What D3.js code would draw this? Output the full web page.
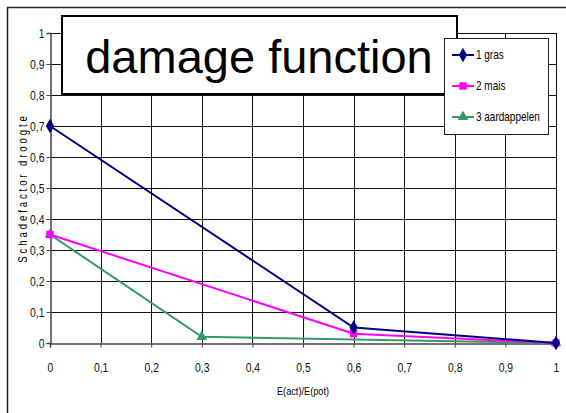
<!DOCTYPE html>
<html>
<head>
<meta charset="utf-8">
<script src="https://cdn.jsdelivr.net/npm/d3@7"></script>
<style>
  body { margin: 0; background: #fff; }
  text { font-family: "Liberation Sans", Arial, sans-serif; }
</style>
</head>
<body>
<div id="viz_area"></div>
<script>
// chart values
var seriesNames = ["1 gras", "2 mais", "3 aardappelen"];
var grasX = [0, 0.6, 1];
var grasY = [0.7, 0.05, 0];
var maisX = [0, 0.6, 1];
var maisY = [0.35, 0.03, 0];
var aardX = [0, 0.3, 1];
var aardY = [0.35, 0.02, 0];
var xTicks = [0, 0.1, 0.2, 0.3, 0.4, 0.5, 0.6, 0.7, 0.8, 0.9, 1];
var yTicks = [0, 0.1, 0.2, 0.3, 0.4, 0.5, 0.6, 0.7, 0.8, 0.9, 1];

var NARROW = 0.8; // squeeze text to look like a narrow font

function __init__() {
    drawChart();
}

// put a text at (px,py) and squeeze it horizontally
function narrowText(sel, px, py, extra) {
    return sel.attr("transform", "translate(" + px + "," + py + ")" + (extra || "") + " scale(" + NARROW + ",1)");
}

function drawChart() {
    var w = 566;
    var h = 413;

    var svg = d3.select("#viz_area")
                .append("svg")
                .attr("width", w)
                .attr("height", h);

    // outer chart frame (runs off the picture on right / bottom)
    svg.append("rect")
       .attr("x", 7.5).attr("y", 7.5)
       .attr("width", 600).attr("height", 500)
       .attr("fill", "white")
       .attr("stroke", "#222")
       .attr("stroke-width", 1.5);

    var x = d3.scaleLinear().domain([0, 1]).range([50, 556]);
    var y = d3.scaleLinear().domain([0, 1]).range([343, 33]);

    var fmt = function(d) { return d3.format(".1~f")(d).replace(".", ","); };

    // grid
    var grid = svg.append("g");
    grid.selectAll("line.v")
        .data(xTicks.slice(1))
        .enter().append("line")
        .attr("x1", (d) => Math.round(x(d)) + 0.5)
        .attr("x2", (d) => Math.round(x(d)) + 0.5)
        .attr("y1", y(1)).attr("y2", y(0))
        .attr("stroke", "#111").attr("stroke-width", 1);
    grid.selectAll("line.h")
        .data(yTicks.slice(1))
        .enter().append("line")
        .attr("y1", (d) => Math.round(y(d)) + 0.5)
        .attr("y2", (d) => Math.round(y(d)) + 0.5)
        .attr("x1", x(0)).attr("x2", x(1))
        .attr("stroke", "#111").attr("stroke-width", 1);

    // axes
    var xAxis = d3.axisBottom(x).tickValues(xTicks).tickFormat(fmt).tickSize(4).tickPadding(15);
    var yAxis = d3.axisLeft(y).tickValues(yTicks).tickFormat(fmt).tickSize(4).tickPadding(2);

    var gx = svg.append("g")
                .attr("transform", "translate(0," + (Math.round(y(0)) + 0.5) + ")")
                .call(xAxis);
    var gy = svg.append("g")
                .attr("transform", "translate(" + (Math.round(x(0)) + 0.5) + ",0)")
                .call(yAxis);
    [gx, gy].forEach(function(g) {
        g.select(".domain").attr("stroke", "#444").attr("stroke-width", 1.5);
        g.selectAll(".tick line").attr("stroke", "#444");
        g.selectAll("text")
         .attr("font-size", 13)
         .attr("fill", "#111")
         .attr("font-family", "'Liberation Sans', Arial, sans-serif")
         .attr("x", function() { return (+d3.select(this).attr("x") || 0) / NARROW; })
         .attr("transform", "scale(" + NARROW + ",1)");
    });

    // axis titles
    narrowText(svg.append("text"), 303, 395)
       .attr("text-anchor", "middle")
       .attr("font-size", 11.5)
       .text("E(act)/E(pot)");
    narrowText(svg.append("text"), 27, 188, " rotate(-90)")
       .attr("text-anchor", "middle")
       .attr("font-size", 12)
       .attr("letter-spacing", 3.6)
       .text("Schadefactor droogte");

    // series
    var series = [
        { name: seriesNames[0], xs: grasX, ys: grasY, color: "#000080", sym: d3.symbolDiamond, size: 60 },
        { name: seriesNames[1], xs: maisX, ys: maisY, color: "#ff00ff", sym: d3.symbolSquare, size: 55 },
        { name: seriesNames[2], xs: aardX, ys: aardY, color: "#339966", sym: d3.symbolTriangle, size: 50 }
    ];

    var line = d3.line().x((d) => x(d[0])).y((d) => y(d[1]));

    series.slice().reverse().forEach(function(s) {
        var pts = s.xs.map((v, i) => [v, s.ys[i]]);
        svg.append("path")
           .attr("d", line(pts))
           .attr("fill", "none")
           .attr("stroke", s.color)
           .attr("stroke-width", 2);
        svg.selectAll(null)
           .data(pts)
           .enter().append("path")
           .attr("transform", (d) => "translate(" + x(d[0]) + "," + y(d[1]) + ")")
           .attr("d", d3.symbol().type(s.sym).size(s.size))
           .attr("fill", s.color);
    });

    // title box
    svg.append("rect")
       .attr("x", 62).attr("y", 16)
       .attr("width", 395).attr("height", 78)
       .attr("fill", "white")
       .attr("stroke", "black")
       .attr("stroke-width", 2);
    svg.append("text")
       .attr("x", 259).attr("y", 73)
       .attr("text-anchor", "middle")
       .attr("font-size", 47)
       .text("damage function");

    // legend
    var legend = svg.append("g");
    legend.append("rect")
          .attr("x", 444.5).attr("y", 38.5)
          .attr("width", 104).attr("height", 96)
          .attr("fill", "white")
          .attr("stroke", "#222")
          .attr("stroke-width", 1);
    var items = legend.selectAll("g.item")
                      .data(series)
                      .enter().append("g")
                      .attr("transform", (d, i) => "translate(0," + (55 + i * 31) + ")");
    items.append("line")
         .attr("x1", 452).attr("x2", 474)
         .attr("stroke", (d) => d.color)
         .attr("stroke-width", 2);
    items.append("path")
         .attr("transform", "translate(463,0)")
         .attr("d", (d) => d3.symbol().type(d.sym).size(d.size)())
         .attr("fill", (d) => d.color);
    narrowText(items.append("text"), 476, 4)
         .attr("font-size", 12.5)
         .text((d) => d.name);
}

window.onload = __init__;
</script>
</body>
</html>
